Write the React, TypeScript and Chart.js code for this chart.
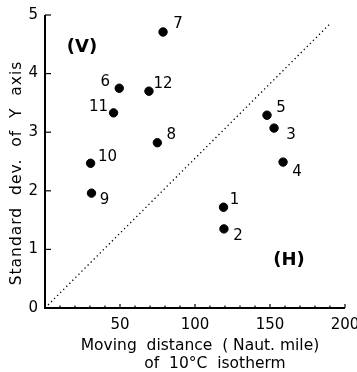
import React, { useEffect, useRef } from "react";
import { Chart, registerables } from "chart.js";

Chart.register(...registerables);

// data
const pointIds = ["1", "2", "3", "4", "5", "6", "7", "8", "9", "10", "11", "12"];
const movingDistance = [119, 119.3, 152.7, 158.7, 148, 49.5, 78.7, 74.9, 31, 30.4, 45.7, 69.3];
const stdDevY = [1.72, 1.35, 3.07, 2.49, 3.29, 3.75, 4.71, 2.82, 1.96, 2.47, 3.33, 3.7];
const diagonalX = [0, 190];
const diagonalY = [0, 4.85];
const xTickValues = [50, 100, 150, 200];
const yTickValues = [0, 1, 2, 3, 4, 5];
const regionLabels = ["(V)", "(H)"];
const regionX = [24.7, 162.7];
const regionY = [4.44, 0.82];
const xTitleLines = ["Moving  distance  ( Naut. mile)", "of  10\u00b0C  isotherm"];
const yTitle = "Standard  dev.  of  Y  axis";

// label placement (style): offsets in px from point
const labelOffsets: Record<string, [number, number]> = {
  "1": [11, -7], "2": [14, 7], "3": [17, 7], "4": [14, 10], "5": [14, -7],
  "6": [-14, -6], "7": [15, -8], "8": [14, -8], "9": [13, 7], "10": [17, -6],
  "11": [-15, -6], "12": [14, -7],
};

const FONT = "'DejaVu Sans', sans-serif";

const decorPlugin = {
  id: "decor",
  afterDraw(chart: any) {
    const ctx = chart.ctx;
    const xs = chart.scales.x;
    const ys = chart.scales.y;
    const area = chart.chartArea;
    ctx.save();
    ctx.strokeStyle = "#000";
    ctx.fillStyle = "#000";
    // axes
    ctx.lineWidth = 2;
    ctx.beginPath();
    ctx.moveTo(area.left, area.top);
    ctx.lineTo(area.left, area.bottom);
    ctx.lineTo(area.right, area.bottom);
    ctx.stroke();
    // y ticks inward
    ctx.lineWidth = 1.2;
    for (const v of yTickValues) {
      const py = ys.getPixelForValue(v);
      ctx.beginPath();
      ctx.moveTo(area.left, py);
      ctx.lineTo(area.left + 6, py);
      ctx.stroke();
    }
    // x ticks inward (minor every 10, major every 50)
    for (let v = 10; v <= 200; v += 10) {
      const px = xs.getPixelForValue(v);
      const len = v % 50 === 0 ? 4 : 2.5;
      ctx.beginPath();
      ctx.moveTo(px, area.bottom);
      ctx.lineTo(px, area.bottom - len);
      ctx.stroke();
    }
    // point labels
    ctx.font = `15px ${FONT}`;
    ctx.textAlign = "center";
    ctx.textBaseline = "middle";
    pointIds.forEach((id, i) => {
      const px = xs.getPixelForValue(movingDistance[i]);
      const py = ys.getPixelForValue(stdDevY[i]);
      const off = labelOffsets[id] || [12, -7];
      ctx.fillText(id, px + off[0], py + off[1]);
    });
    // region labels
    ctx.font = `bold 18px ${FONT}`;
    regionLabels.forEach((t, i) => {
      ctx.fillText(t, xs.getPixelForValue(regionX[i]), ys.getPixelForValue(regionY[i]));
    });
    // x title
    ctx.font = `15.5px ${FONT}`;
    ctx.fillText(xTitleLines[0], 200, 346);
    ctx.fillText(xTitleLines[1], 215, 364);
    // y title
    ctx.save();
    ctx.translate(17, 173);
    ctx.rotate(-Math.PI / 2);
    ctx.font = `15.5px ${FONT}`;
    (ctx as any).letterSpacing = "1px";
    ctx.fillText(yTitle, 0, 0);
    ctx.restore();
    ctx.restore();
  },
};

export default function App() {
  const ref = useRef<HTMLCanvasElement>(null);
  useEffect(() => {
    const chart = new Chart(ref.current!, {
      type: "scatter",
      data: {
        datasets: [
          {
            type: "scatter",
            data: movingDistance.map((x, i) => ({ x, y: stdDevY[i] })),
            backgroundColor: "#000",
            borderColor: "#000",
            pointRadius: 4.2,
            pointHoverRadius: 4.2,
          },
          {
            type: "line",
            data: diagonalX.map((x, i) => ({ x, y: diagonalY[i] })),
            borderColor: "#000",
            borderWidth: 1.3,
            borderDash: [1.3, 3],
            pointRadius: 0,
            fill: false,
          } as any,
        ],
      },
      options: {
        animation: false,
        responsive: false,
        events: [],
        layout: { padding: { left: 0, top: 15, right: 12, bottom: 0 } },
        plugins: { legend: { display: false }, tooltip: { enabled: false } },
        scales: {
          x: {
            type: "linear",
            min: 0,
            max: 200,
            afterFit: (s: any) => { s.height = 64; s.paddingLeft = 0; s.paddingRight = 0; },
            afterBuildTicks: (s: any) => { s.ticks = xTickValues.map((v) => ({ value: v })); },
            grid: { display: false, drawTicks: false },
            border: { display: false },
            ticks: { color: "#000", font: { family: FONT, size: 15 }, padding: 8, maxRotation: 0 },
          },
          y: {
            type: "linear",
            min: 0,
            max: 5,
            afterFit: (s: any) => { s.width = 45; s.paddingTop = 0; s.paddingBottom = 0; },
            afterBuildTicks: (s: any) => { s.ticks = yTickValues.map((v) => ({ value: v })); },
            grid: { display: false, drawTicks: false },
            border: { display: false },
            ticks: { color: "#000", font: { family: FONT, size: 15 }, padding: 7 },
          },
        },
      },
      plugins: [decorPlugin],
    });
    return () => chart.destroy();
  }, []);
  return (
    <div style={{ position: "fixed", left: 0, top: 0, width: 357, height: 372, background: "#fff" }}>
      <canvas ref={ref} width={357} height={372} />
    </div>
  );
}
